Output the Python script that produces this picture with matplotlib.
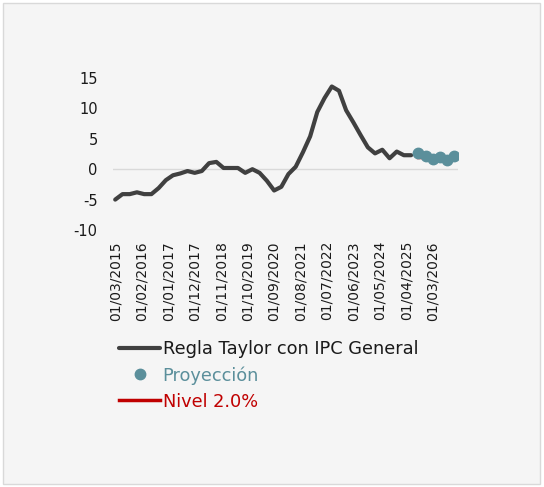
import matplotlib.pyplot as plt
import matplotlib.dates as mdates
from matplotlib.patches import Rectangle
import pandas as pd

# quarterly Taylor rule history (Mar 2015 - Jun 2025)
hist_dates = pd.date_range("2015-03-01", periods=42, freq="3MS")
hist_vals = [-5.0, -4.1, -4.1, -3.8, -4.1, -4.1, -3.1, -1.8, -1.0, -0.7,
             -0.3, -0.6, -0.3, 1.0, 1.2, 0.2, 0.2, 0.2, -0.6, 0.0,
             -0.6, -1.9, -3.5, -2.9, -0.8, 0.4, 2.8, 5.4, 9.4, 11.7,
             13.6, 12.9, 9.7, 7.7, 5.6, 3.6, 2.6, 3.2, 1.8, 2.9,
             2.3, 2.3]

# projection (Sep 2025 - Dec 2026)
proj_dates = pd.date_range("2025-09-01", periods=6, freq="3MS")
proj_vals = [2.7, 2.2, 1.6, 2.0, 1.5, 2.2]
target = [2.0] * len(proj_dates)

tick_dates = pd.date_range("2015-03-01", periods=13, freq="11MS")
yticks = [-10, -5, 0, 5, 10, 15]

plt.rcParams["font.family"] = "DejaVu Sans"
plt.rcParams["axes.unicode_minus"] = False

fig = plt.figure(figsize=(5.44, 4.87), dpi=100, facecolor="white")
fig.patches.append(Rectangle((3 / 544, 3 / 487), 537 / 544, 481 / 487,
                             transform=fig.transFigure, facecolor="#f5f5f5",
                             edgecolor="#d9d9d9", linewidth=1, zorder=-10))

ax = fig.add_axes([113 / 544, 1 - 230 / 487, 345 / 544, 152 / 487])
ax.set_facecolor("none")

ax.axhline(0, color="#d9d9d9", linewidth=1, zorder=1)
l1, = ax.plot(hist_dates, hist_vals, color="#404040", linewidth=3,
              solid_capstyle="round", solid_joinstyle="round", zorder=3)
l3, = ax.plot(proj_dates, target, color="#c00000", linewidth=2.5, zorder=2)
l2, = ax.plot(proj_dates, proj_vals, linestyle="none", marker="o",
              markersize=7.5, color="#5b8f9b", zorder=4)

ax.set_ylim(-10, 15)
ax.set_yticks(yticks)
ax.set_xlim(pd.Timestamp("2015-02-01"), pd.Timestamp("2027-01-15"))
ax.set_xticks(tick_dates)
ax.xaxis.set_major_formatter(mdates.DateFormatter("%d/%m/%Y"))
ax.tick_params(axis="x", labelrotation=90, length=0, labelsize=10,
               colors="#1a1a1a", pad=8)
ax.tick_params(axis="y", length=0, labelsize=10.5, colors="#1a1a1a", pad=11)
for s in ax.spines.values():
    s.set_visible(False)

leg = fig.legend([l1, l2, l3],
                 ["Regla Taylor con IPC General", "Proyección", "Nivel 2.0%"],
                 loc="upper left", bbox_to_anchor=(112 / 544, 1 - 333 / 487),
                 frameon=False, fontsize=12.8, handlelength=2.3,
                 handletextpad=0.15, labelspacing=0.45, borderaxespad=0)
for txt, c in zip(leg.get_texts(), ["#1a1a1a", "#5b8f9b", "#c00000"]):
    txt.set_color(c)

fig.savefig("out.png", dpi=100, facecolor=fig.get_facecolor())
